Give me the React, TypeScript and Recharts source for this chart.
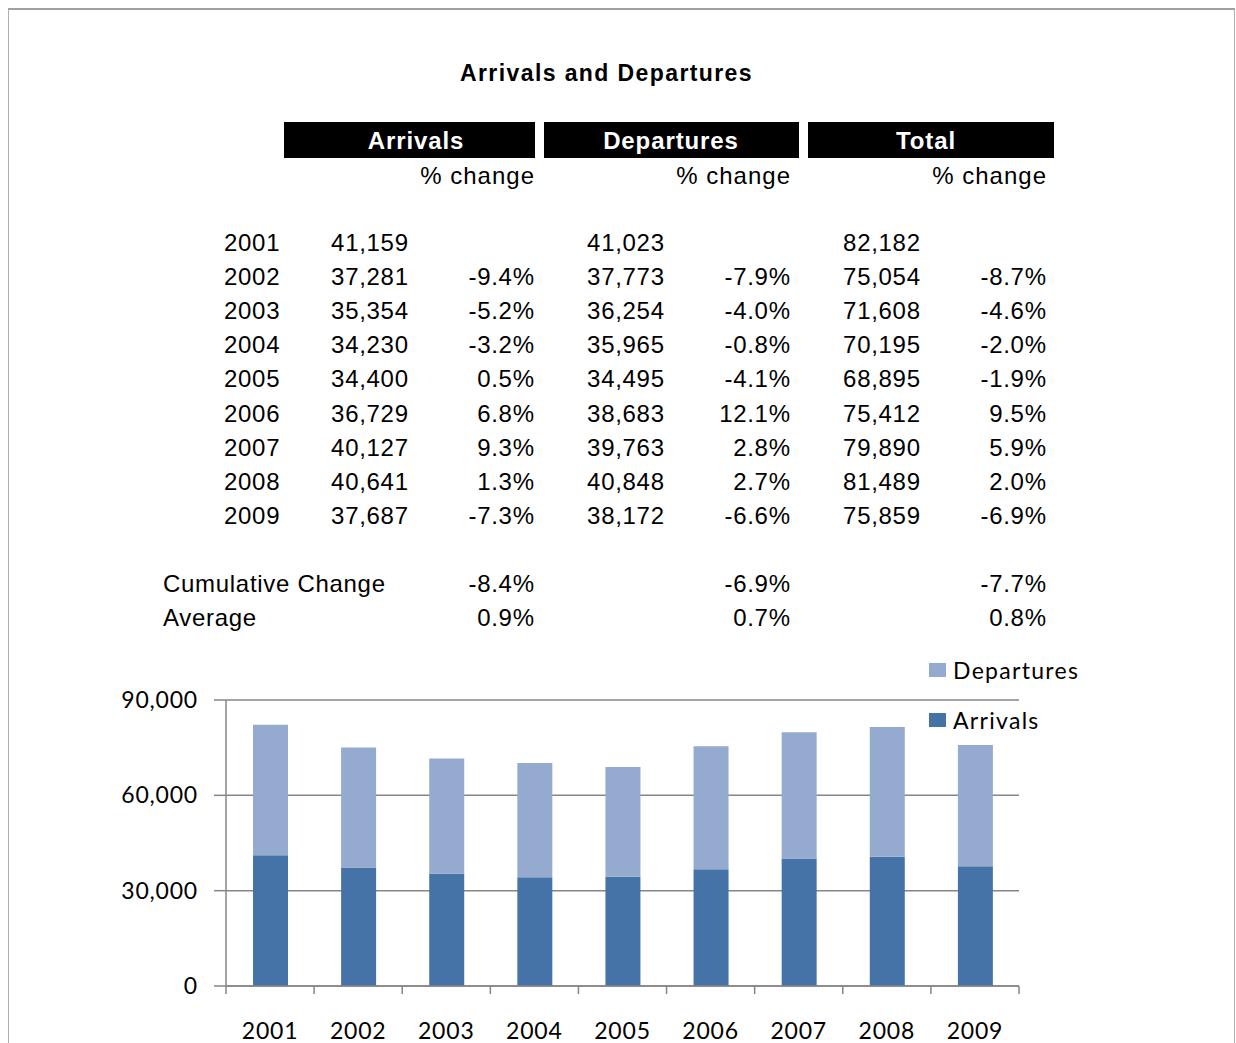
import React from 'react';
import { BarChart, Bar, XAxis, YAxis, CartesianGrid, Legend } from 'recharts';

const years = ['2001', '2002', '2003', '2004', '2005', '2006', '2007', '2008', '2009'];
const arrivals = [41159, 37281, 35354, 34230, 34400, 36729, 40127, 40641, 37687];
const departures = [41023, 37773, 36254, 35965, 34495, 38683, 39763, 40848, 38172];
const totals = [82182, 75054, 71608, 70195, 68895, 75412, 79890, 81489, 75859];
const arrivalsPct = ['', '-9.4%', '-5.2%', '-3.2%', '0.5%', '6.8%', '9.3%', '1.3%', '-7.3%'];
const departuresPct = ['', '-7.9%', '-4.0%', '-0.8%', '-4.1%', '12.1%', '2.8%', '2.7%', '-6.6%'];
const totalPct = ['', '-8.7%', '-4.6%', '-2.0%', '-1.9%', '9.5%', '5.9%', '2.0%', '-6.9%'];
const summaryLabels = ['Cumulative Change', 'Average'];
const summaryArrivals = ['-8.4%', '0.9%'];
const summaryDepartures = ['-6.9%', '0.7%'];
const summaryTotal = ['-7.7%', '0.8%'];
const headers = ['Arrivals', 'Departures', 'Total'];
const yTicks = [0, 30000, 60000, 90000];

const chartData = years.map((y, i) => ({ year: y, arrivals: arrivals[i], departures: departures[i] }));

const W = 1236;
const H = 1043;
const PLOT_LEFT = 226;
const PLOT_RIGHT = 1019;
const CHART_TOP = 650;
const BAND = (PLOT_RIGHT - PLOT_LEFT) / years.length;
const ARR_COLOR = '#4673A7';
const DEP_COLOR = '#95AACF';
const AXIS = '#868686';
const fmt = (v: number) => v.toLocaleString('en-US');

const TABLE_FONT = '"Liberation Sans", Arial, sans-serif';

function T({ x, y, align = 'left', bold = false, color = '#000', size = 24, ls = 0.7, children }: any) {
  const lh = 30;
  const style: React.CSSProperties = {
    position: 'absolute',
    top: y - lh / 2,
    lineHeight: lh + 'px',
    height: lh,
    fontSize: size,
    fontFamily: TABLE_FONT,
    fontWeight: bold ? 700 : 400,
    color,
    letterSpacing: ls + 'px',
    whiteSpace: 'nowrap',
  };
  if (align === 'left') style.left = x;
  else if (align === 'right') style.right = W - x - ls;
  else {
    style.left = x;
    style.transform = 'translateX(-50%)';
  }
  return <div style={style}>{children}</div>;
}

const headerBoxes = [
  { l: 284, r: 535 },
  { l: 544, r: 799 },
  { l: 808, r: 1054 },
];
const headerCenters = [416, 671, 926];
const valueRight = [408, 664, 920];
const pctRight = [534, 790, 1046];
const ROW0 = 243;
const ROW_STEP = 34.1;

function XTick(props: any) {
  const { x, y, payload, index } = props;
  const half = BAND / 2;
  return (
    <g>
      <line x1={x - half} x2={x - half} y1={y} y2={y + 8} stroke={AXIS} strokeWidth={1.5} />
      {index === years.length - 1 && (
        <line x1={x + half} x2={x + half} y1={y} y2={y + 8} stroke={AXIS} strokeWidth={1.5} />
      )}
      <text x={x} y={y + 44} textAnchor="middle" dominantBaseline="central" fill="#000" fontSize={23}>
        {payload.value}
      </text>
    </g>
  );
}

function renderLegend(props: any) {
  const items = [...(props.payload || [])].reverse();
  return (
    <div>
      {items.map((it: any) => (
        <div key={it.value} style={{ display: 'flex', alignItems: 'center', height: 30, marginBottom: 20 }}>
          <div style={{ width: 17, height: 14, background: it.color, marginRight: 7 }} />
          <span style={{ fontSize: 23, color: '#000', fontFamily: 'Lato', letterSpacing: '1.3px' }}>{it.value}</span>
        </div>
      ))}
    </div>
  );
}

export default function App() {
  return (
    <div style={{ position: 'absolute', left: 0, top: 0, width: W, height: H, overflow: 'hidden', background: '#fff' }}>
      <div
        style={{
          position: 'absolute',
          left: 8,
          top: 8,
          width: 1225,
          height: 1100,
          borderTop: '2px solid #a0a0a0',
          borderLeft: '1px solid #b0b0b0',
          borderRight: '1px solid #b0b0b0',
        }}
      />
      <T x={606.5} y={73} align="center" bold size={23} ls={1.4}>
        Arrivals and Departures
      </T>
      {headers.map((h, i) => (
        <div
          key={h}
          style={{
            position: 'absolute',
            left: headerBoxes[i].l,
            top: 122,
            width: headerBoxes[i].r - headerBoxes[i].l,
            height: 36,
            background: '#000',
          }}
        />
      ))}
      {headers.map((h, i) => (
        <T key={h + 't'} x={headerCenters[i]} y={141} align="center" bold color="#fff" ls={0.9}>
          {h}
        </T>
      ))}
      {pctRight.map((r, i) => (
        <T key={'pc' + i} x={r} y={176} align="right" ls={1}>
          % change
        </T>
      ))}
      {years.map((yr, i) => {
        const cy = ROW0 + i * ROW_STEP;
        return (
          <React.Fragment key={yr}>
            <T x={224} y={cy}>{yr}</T>
            <T x={valueRight[0]} y={cy} align="right">{fmt(arrivals[i])}</T>
            <T x={pctRight[0]} y={cy} align="right">{arrivalsPct[i]}</T>
            <T x={valueRight[1]} y={cy} align="right">{fmt(departures[i])}</T>
            <T x={pctRight[1]} y={cy} align="right">{departuresPct[i]}</T>
            <T x={valueRight[2]} y={cy} align="right">{fmt(totals[i])}</T>
            <T x={pctRight[2]} y={cy} align="right">{totalPct[i]}</T>
          </React.Fragment>
        );
      })}
      {summaryLabels.map((lab, i) => {
        const cy = 584 + i * 34;
        return (
          <React.Fragment key={lab}>
            <T x={163} y={cy}>{lab}</T>
            <T x={pctRight[0]} y={cy} align="right">{summaryArrivals[i]}</T>
            <T x={pctRight[1]} y={cy} align="right">{summaryDepartures[i]}</T>
            <T x={pctRight[2]} y={cy} align="right">{summaryTotal[i]}</T>
          </React.Fragment>
        );
      })}
      <div style={{ position: 'absolute', left: 0, top: CHART_TOP, width: W, height: 393 }}>
        <BarChart
          width={W}
          height={393}
          data={chartData}
          margin={{ top: 50, right: W - PLOT_RIGHT, left: PLOT_LEFT - 80, bottom: 0 }}
          style={{ fontFamily: 'Lato', letterSpacing: '0.8px' }}
        >
          <CartesianGrid vertical={false} stroke={AXIS} strokeWidth={1.5} />
          <YAxis
            width={80}
            domain={[0, 90000]}
            ticks={yTicks}
            tickFormatter={fmt}
            tickSize={12}
            tickMargin={16}
            axisLine={{ stroke: AXIS, strokeWidth: 1.5 }}
            tickLine={{ stroke: AXIS, strokeWidth: 1.5 }}
            tick={{ fill: '#000', fontSize: 23 }}
          />
          <XAxis
            dataKey="year"
            height={57}
            tickSize={0}
            tickMargin={0}
            tickLine={false}
            interval={0}
            axisLine={{ stroke: AXIS, strokeWidth: 1.5 }}
            tick={<XTick />}
          />
          <Legend
            layout="horizontal"
            verticalAlign="middle"
            align="center"
            wrapperStyle={{ left: 929, top: 5, width: 220 }}
            content={renderLegend}
          />
          <Bar dataKey="arrivals" name="Arrivals" stackId="a" fill={ARR_COLOR} barSize={35} isAnimationActive={false} />
          <Bar dataKey="departures" name="Departures" stackId="a" fill={DEP_COLOR} barSize={35} isAnimationActive={false} />
        </BarChart>
      </div>
    </div>
  );
}
